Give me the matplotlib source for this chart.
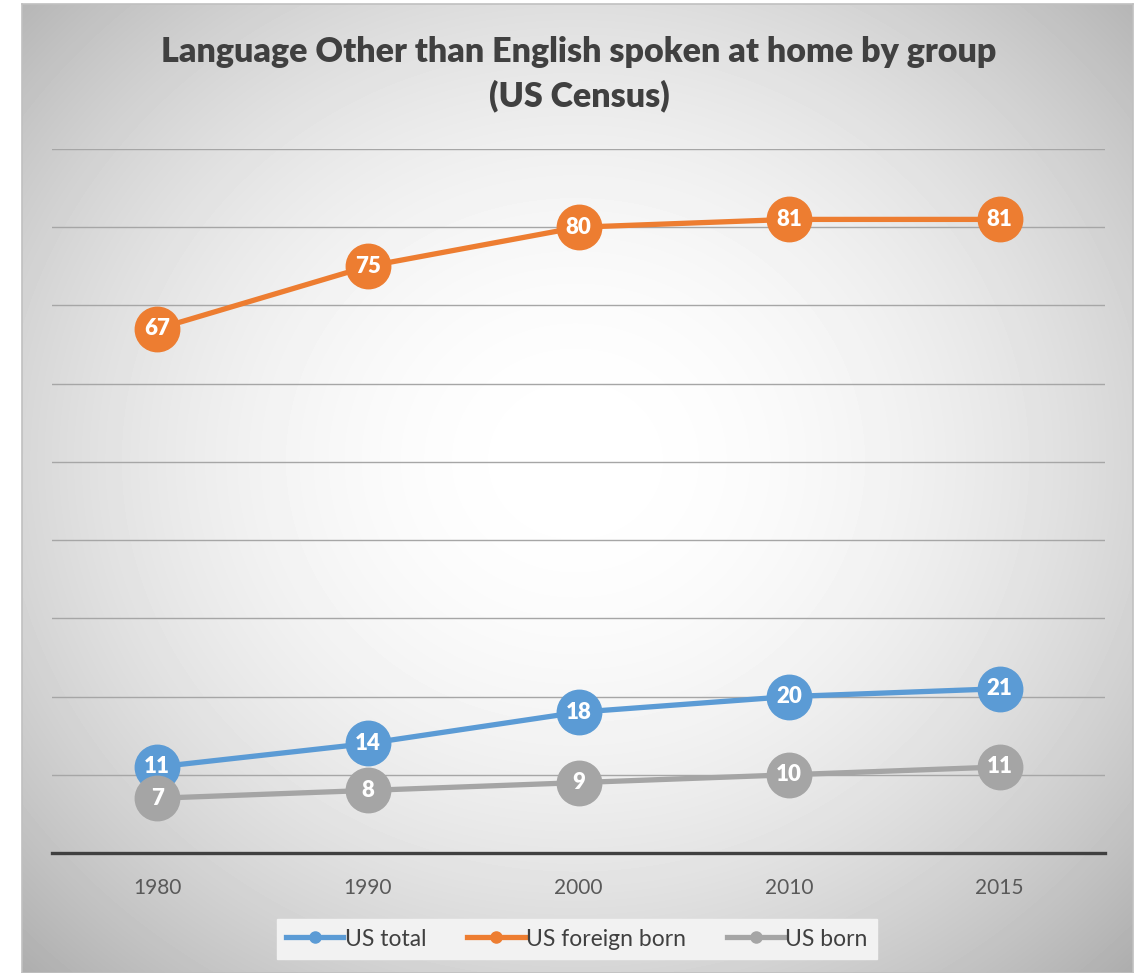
import numpy as np
import matplotlib
matplotlib.use("Agg")
import matplotlib.pyplot as plt

plt.rcParams["font.family"] = ["Lato", "DejaVu Sans"]

YEARS = ["1980", "1990", "2000", "2010", "2015"]
US_TOTAL = [11, 14, 18, 20, 21]
US_FOREIGN = [67, 75, 80, 81, 81]
US_BORN = [7, 8, 9, 10, 11]

SERIES = [
    ("US total", US_TOTAL, "#5B9BD5"),
    ("US foreign born", US_FOREIGN, "#ED7D31"),
    ("US born", US_BORN, "#A5A5A5"),
]

W, H = 1137, 973
fig = plt.figure(figsize=(W / 100, H / 100), dpi=100)
fig.patch.set_facecolor("white")

# radial gradient background of the chart area
bx0, by0, bx1, by1 = 22, 4, 1133, 973
bg = fig.add_axes([bx0 / W, 1 - by1 / H, (bx1 - bx0) / W, (by1 - by0) / H], zorder=0)
yy, xx = np.mgrid[by0:by1, bx0:bx1]
r = np.sqrt(((xx - 575) / 640.0) ** 2 + ((yy - 460) / 580.0) ** 2)
shade = 1.0 - 0.21 * np.clip(r, 0, 1.3) ** 2.0
bg.imshow(shade, cmap="gray", vmin=0, vmax=1, aspect="auto", interpolation="bilinear")
bg.set_xticks([])
bg.set_yticks([])
for s in bg.spines.values():
    s.set_color("#c0c0c0")
    s.set_linewidth(1.2)

# plot axes
ax_l, ax_r, ax_t, ax_b = 52, 1105, 149, 853
ax = fig.add_axes([ax_l / W, 1 - ax_b / H, (ax_r - ax_l) / W, (ax_b - ax_t) / H], zorder=1)
ax.patch.set_alpha(0)
x = np.arange(len(YEARS))
ax.set_xlim(-0.5, len(YEARS) - 0.5)
ax.set_ylim(0, 90)
ax.set_yticks(np.arange(10, 91, 10))
ax.yaxis.grid(True, color="#a6a6a6", linewidth=1.0)
ax.set_axisbelow(True)
ax.tick_params(axis="y", left=False, labelleft=False)
ax.tick_params(axis="x", length=0, pad=18, labelsize=15, labelcolor="#595959")
ax.set_xticks(x)
ax.set_xticklabels(YEARS)
for side in ["top", "left", "right"]:
    ax.spines[side].set_visible(False)
ax.spines["bottom"].set_color("#404040")
ax.spines["bottom"].set_linewidth(2.4)

for name, vals, col in SERIES:
    ax.plot(x, vals, color=col, linewidth=3.8, marker="o", markersize=32,
            label=name, zorder=3, clip_on=False)
    for xi, v in zip(x, vals):
        ax.text(xi, v, str(v), ha="center", va="center", color="white",
                fontsize=16, fontweight="heavy", zorder=4)

fig.text(579 / W, 1 - 74 / H, "Language Other than English spoken at home by group\n(US Census)",
         ha="center", va="center", fontsize=24.5, fontweight="heavy", color="#404040",
         linespacing=1.45)

handles = [plt.Line2D([0], [0], color=c, linewidth=3.8, marker="o", markersize=8)
           for _, _, c in SERIES]
leg = fig.legend(handles, [s[0] for s in SERIES], loc="center",
                 bbox_to_anchor=(577 / W, 1 - 939 / H), ncol=3, frameon=True,
                 fontsize=16.5, handlelength=2.5, handletextpad=0.05, columnspacing=1.8,
                 borderpad=0.4, fancybox=False)
leg.get_frame().set_facecolor("#f2f2f2")
leg.get_frame().set_edgecolor("#f2f2f2")
leg.get_frame().set_alpha(1)
leg.set_zorder(5)
for t in leg.get_texts():
    t.set_color("#404040")

fig.savefig("out.png", dpi=100)
